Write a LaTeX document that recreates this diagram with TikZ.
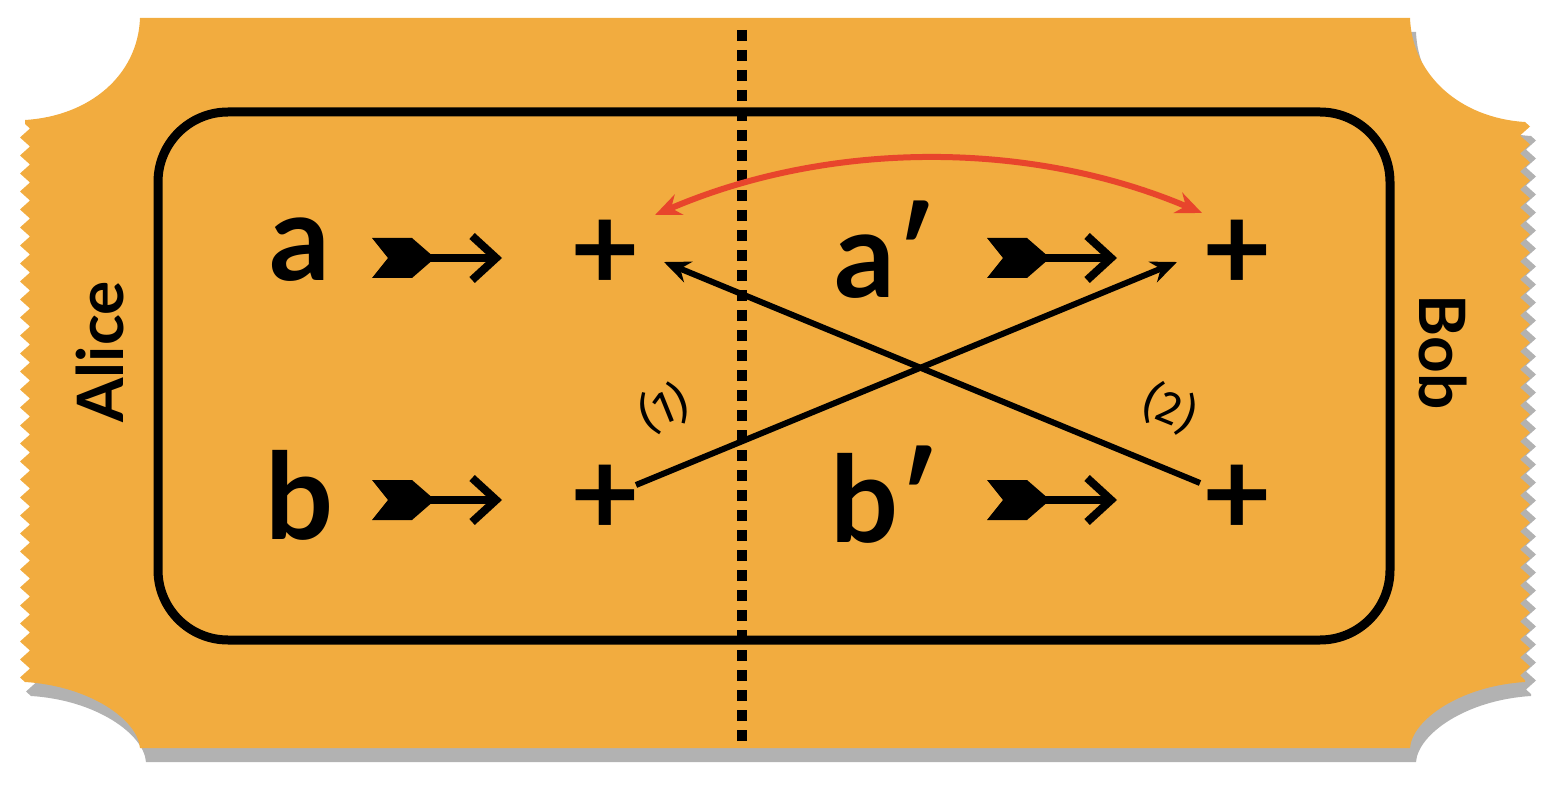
\documentclass[tikz,border=0pt]{standalone}
\usepackage{fontspec}
\setmainfont{Lato}
\newfontfamily\labfont{Fira Sans}
\usetikzlibrary{decorations.pathmorphing,arrows.meta}
\definecolor{tick}{HTML}{F2AC3F}
\definecolor{redarr}{HTML}{E8452C}
\begin{document}
\begin{tikzpicture}[x=1pt,y=-1pt,
  big/.style={font=\fontsize{120}{120}\selectfont\bfseries,inner sep=0},
  side/.style={font=\fontsize{64}{64}\selectfont\bfseries,inner sep=0},
  lab/.style={font=\fontsize{46}{46}\labfont\selectfont,inner sep=0},
  serr/.style={decoration={zigzag,segment length=18pt,amplitude=5pt}},
  feather/.pic={
    \fill (-68,-20) -- (-28,-20) -- (-5,0) -- (-28,20) -- (-68,20) -- (-52,0) -- cycle;
    \draw[line width=8pt,-{Straight Barb[length=24pt,width=44pt,line width=8pt]}] (-14,0) -- (62,0);
  }]
\useasboundingbox (0,0) rectangle (1550,802);
\def\ticket{(140,18) -- (1410,18) .. controls (1412,75) and (1460,118) .. (1525,122)
  decorate[serr]{-- (1525,680)} -- (1525,682) .. controls (1460,686) and (1412,720) .. (1410,748)
  -- (140,748) .. controls (138,720) and (90,686) .. (25,682)
  decorate[serr]{-- (25,122)} -- (25,120) .. controls (90,116) and (138,75) .. (140,18) -- cycle}
\fill[black,opacity=0.3,shift={(6,14)}] \ticket;
\fill[tick] \ticket;
\draw[line width=9pt,rounded corners=70pt] (158,112) rectangle (1390,640);
\draw[line width=10pt,dash pattern=on 11pt off 9pt] (742,30) -- (742,745);
\node[big] (a) at (300,250) {a};
\pic at (440,258) {feather};
\node[big] (pa) at (605,255) {+};
\node[big] (ap) at (885,250) {a′};
\pic at (1055,258) {feather};
\node[big] (pap) at (1237,255) {+};
\node[big] (b) at (300,495) {b};
\pic at (440,500) {feather};
\node[big] (pb) at (605,500) {+};
\node[big] (bp) at (885,495) {b′};
\pic at (1055,500) {feather};
\node[big] (pbp) at (1237,500) {+};
\node[side,rotate=90] (alice) at (100,352) {Alice};
\node[side,rotate=-90] (bob) at (1443,352) {Bob};
\coordinate (s1) at (636,485); \coordinate (e1) at (1177,262);
\coordinate (s2) at (1200,483); \coordinate (e2) at (664,262);
\draw[line width=6pt,-{Stealth[length=26pt,width=22pt]}] (s1) -- (e1);
\draw[line width=6pt,-{Stealth[length=26pt,width=22pt]}] (s2) -- (e2);
\node[lab,rotate=22] (l1) at (664,408) {(1)};
\node[lab,rotate=-22] (l2) at (1170,408) {(2)};
\coordinate (r1) at (655,215); \coordinate (r2) at (1202,213);
\draw[redarr,line width=6pt,{Stealth[length=26pt,width=22pt]}-{Stealth[length=26pt,width=22pt]}] (r1) .. controls (830,140) and (1030,140) .. (r2);
\end{tikzpicture}
\end{document}
